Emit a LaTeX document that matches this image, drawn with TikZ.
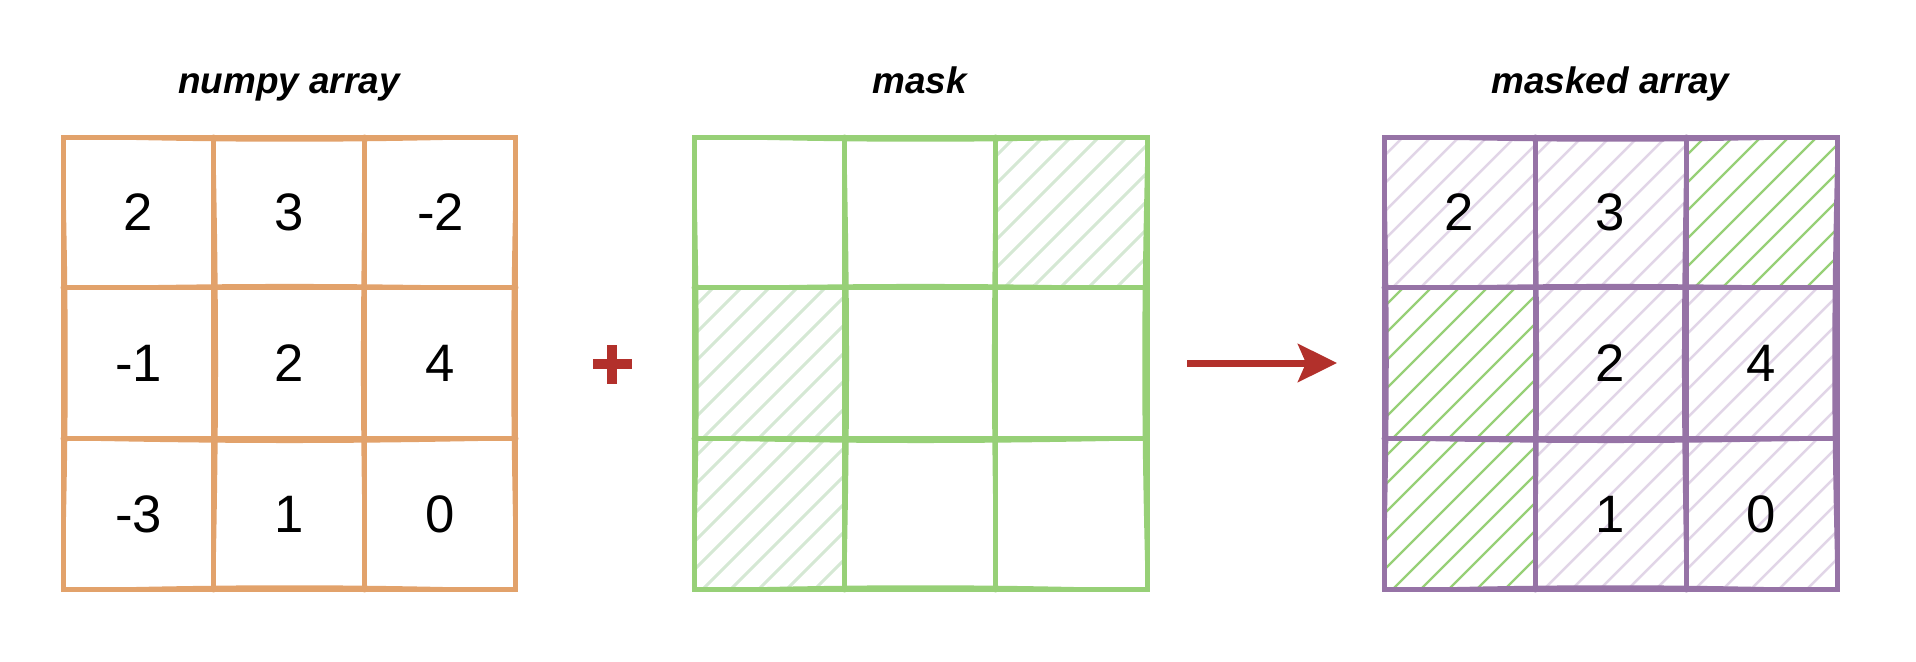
\documentclass[tikz,border=0pt]{standalone}
\usepackage{fontspec}
\setmainfont{Liberation Sans}
\usetikzlibrary{positioning,arrows.meta}
\definecolor{orng}{HTML}{E2A26B}
\definecolor{grn}{HTML}{97D077}
\definecolor{grnlt}{HTML}{D5E8D4}
\definecolor{purp}{HTML}{9673A6}
\definecolor{purplt}{HTML}{E1D5E7}
\definecolor{redc}{HTML}{B2302B}
\pgfdeclarelayer{bg}
\pgfsetlayers{bg,main}
\tikzset{
  cell/.style={minimum size=3.02cm, inner sep=0pt, outer sep=0pt, font=\fontsize{30}{36}\selectfont},
  ttl/.style={anchor=base, font=\fontsize{21}{25}\selectfont\bfseries\itshape},
  edge/.style={line width=0.1cm, line cap=round},
  edge2/.style={line width=0.05cm, line cap=round},
  arr/.style={-{Stealth[length=0.78cm, width=0.76cm, inset=0.16cm]}, line width=0.14cm, redc},
}
% hatching of one cell, drawn below the text
\newcommand\hatch[3]{%
  \begin{pgfonlayer}{bg}
    \begin{scope}
      \clip (#1.north west) rectangle (#1.south east);
      \foreach \d in {-160,-132,...,160}
        \draw[#2, line width=#3, line cap=round] ([xshift=\d*0.02cm]#1.south west) -- ++(151,-151);
    \end{scope}
  \end{pgfonlayer}}
% 3x3 grid round the cells #10..#18, drawn twice
\newcommand\sketchgrid[2]{%
  \draw[edge, #2] (#10.north west) rectangle (#18.south east)
    (#10.south west) -- (#12.south east) (#13.south west) -- (#15.south east)
    (#10.north east) -- (#16.south east) (#11.north east) -- (#17.south east);
  \draw[edge2, #2] (#10.north west) to[bend right=1.5] (#12.north east)
    to[bend right=1.5] (#18.south east) to[bend right=1.5] (#16.south west)
    to[bend right=1.5] cycle
    (#10.south west) to[bend left=1.2] (#12.south east)
    (#13.south west) to[bend right=1.2] (#15.south east)
    (#10.north east) to[bend left=1.2] (#16.south east)
    (#11.north east) to[bend right=1.2] (#17.south east);}

\begin{document}
\begin{tikzpicture}[x=0.02cm, y=-0.02cm]
  \useasboundingbox (0,0) rectangle (1916,662);

  % titles
  \node[ttl] (tarr) at (289,94) {numpy array};
  \node[ttl] (tmask) at (919.5,94) {mask};
  \node[ttl] (tres) at (1610.5,94) {masked array};

  % cells
  \foreach \v [count=\i from 0] in {2,3,-2,-1,2,4,-3,1,0}{
    \pgfmathtruncatemacro\c{mod(\i,3)}
    \pgfmathtruncatemacro\r{\i/3}
    \node[cell] (a\i) at (138.5+151*\c, 212.5+151*\r) {\v};
    \node[cell] (m\i) at (769.5+151*\c, 212.5+151*\r) {};
  }
  \foreach \v [count=\i from 0] in {2,3,{},{},2,4,{},1,0}{
    \pgfmathtruncatemacro\c{mod(\i,3)}
    \pgfmathtruncatemacro\r{\i/3}
    \node[cell] (r\i) at (1459.5+151*\c, 212.5+151*\r) {\v};
  }

  \foreach \k in {2,3,6} \hatch{m\k}{grnlt}{0.06cm};
  \foreach \k in {0,1,4,5,7,8} \hatch{r\k}{purplt}{0.05cm};
  \foreach \k in {2,3,6} \hatch{r\k}{grn}{0.045cm};

  \sketchgrid{a}{orng}
  \sketchgrid{m}{grn}
  \sketchgrid{r}{purp}

  % plus and arrow
  \coordinate (plus) at (612,364);
  \fill[redc] ([shift={(-19.5,-5)}]plus) rectangle ([shift={(19.5,5)}]plus);
  \fill[redc] ([shift={(-5,-19.5)}]plus) rectangle ([shift={(5,19.5)}]plus);
  \coordinate (arr0) at (1187,363);
  \coordinate (arr1) at (1337,363);
  \draw[arr] (arr0) -- (arr1);
\end{tikzpicture}
\end{document}
